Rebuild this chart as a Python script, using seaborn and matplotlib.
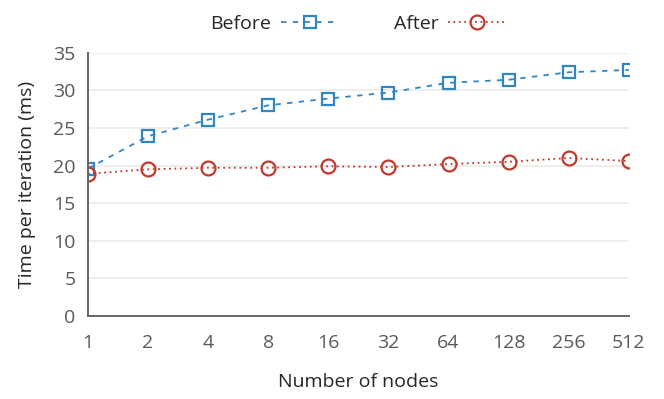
import matplotlib
matplotlib.use('Agg')
import matplotlib.pyplot as plt
from matplotlib.lines import Line2D
import seaborn as sns

nodes = ['1', '2', '4', '8', '16', '32', '64', '128', '256', '512']
before = [19.6, 23.9, 26.1, 28.0, 28.9, 29.7, 31.0, 31.4, 32.4, 32.7]
after = [18.9, 19.5, 19.7, 19.7, 19.9, 19.8, 20.2, 20.5, 21.0, 20.6]

blue = '#2f86c2'
red = '#c0392b'
fs = 14

sns.set_style('white')
plt.rcParams['font.family'] = ['Open Sans', 'DejaVu Sans']
plt.rcParams['font.size'] = fs

fig, ax = plt.subplots(figsize=(6.64, 3.99), dpi=100)
fig.subplots_adjust(left=0.1325, right=0.947, bottom=0.208, top=0.868)

before_style = dict(color=blue, linestyle=(0, (3, 3.5)), linewidth=1.3, marker='s', markersize=9,
                    markerfacecolor='none', markeredgecolor=blue, markeredgewidth=1.6)
after_style = dict(color=red, linestyle=(0, (1, 2)), linewidth=1.3, marker='o', markersize=10,
                   markerfacecolor='none', markeredgecolor=red, markeredgewidth=1.6)

sns.lineplot(x=nodes, y=before, ax=ax, sort=False, **before_style)
sns.lineplot(x=nodes, y=after, ax=ax, sort=False, **after_style)

ax.set_xlim(0, len(nodes) - 1)
ax.set_ylim(0, 35)
ax.set_yticks(range(0, 36, 5))
ax.yaxis.grid(True, color='#ebebeb', linewidth=1.2)
ax.set_axisbelow(True)
sns.despine(ax=ax)
for s in ['left', 'bottom']:
    ax.spines[s].set_color('#666666')
    ax.spines[s].set_linewidth(1.4)
ax.tick_params(axis='both', direction='in', length=7, width=1.4, color='#666666',
               labelcolor='#595959', labelsize=fs)
ax.tick_params(axis='y', pad=9)
ax.tick_params(axis='x', pad=13)
ax.set_xlabel('Number of nodes', fontsize=fs, labelpad=15)
ax.set_ylabel('Time per iteration (ms)', fontsize=fs, labelpad=12)

handles = [Line2D([], [], **before_style), Line2D([], [], **after_style)]
ax.legend(handles, ['Before', 'After'], loc='lower center', bbox_to_anchor=(0.5, 1.0),
          ncol=2, frameon=False, markerfirst=False, handlelength=3.0, handletextpad=0.5,
          columnspacing=2.8, fontsize=fs, borderaxespad=0.6)

fig.savefig('out.png', dpi=100)
